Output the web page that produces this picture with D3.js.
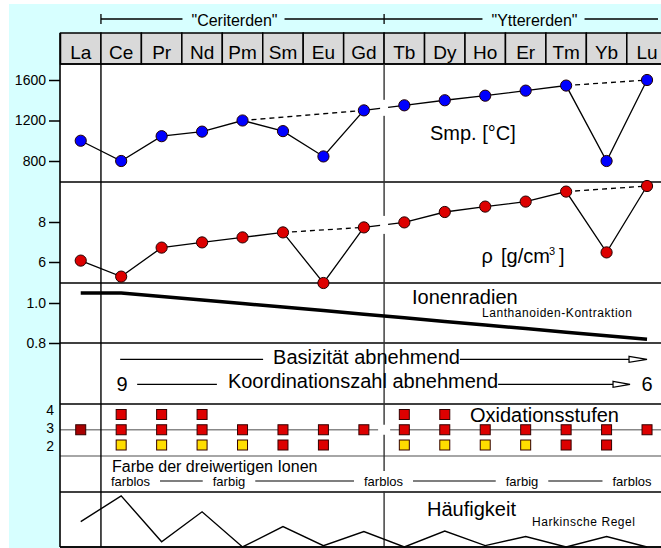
<!DOCTYPE html>
<html><head><meta charset="utf-8">
<script src="https://cdnjs.cloudflare.com/ajax/libs/d3/7.8.5/d3.min.js"></script>
<style>
html,body{margin:0;padding:0;background:#fff;}
svg{display:block;font-family:"Liberation Sans",Arial,Helvetica,sans-serif;}
</style></head><body>
<svg id="c" width="661" height="548"></svg>
<script>
// ---------------- data ----------------
const elements = ["La","Ce","Pr","Nd","Pm","Sm","Eu","Gd","Tb","Dy","Ho","Er","Tm","Yb","Lu"];
const groupNames = ["\"Ceriterden\"", "\"Yttererden\""];
const groupStart = ["Ce", "Tb"];

const meltingPoint = [1000, 800, 1045, 1090, 1200, 1095, 845, 1300, 1350, 1400, 1445, 1495, 1545, 800, 1600];
const meltingTicks = [800, 1200, 1600];
const meltingDashed = [["Pm","Gd"], ["Tm","Lu"]];

const density = [6.07, 5.27, 6.72, 6.98, 7.23, 7.48, 4.95, 7.73, 7.98, 8.5, 8.77, 9.02, 9.52, 6.48, 9.8];
const densityTicks = [6, 8];
const densityDashed = [["Sm","Gd"], ["Tm","Lu"]];

const ionicRadius = [1.05, 1.05, 1.032, 1.015, 0.997, 0.98, 0.962, 0.944, 0.926, 0.908, 0.89, 0.872, 0.854, 0.836, 0.819];
const radiusTicks = [0.8, 1.0];

const oxTicks = [2, 3, 4];
// d = dark red, r = red, y = yellow, "" = none
const ox4 = ["", "r","r","r","", "", "", "", "r","r","", "", "", "", ""];
const ox3 = ["d","r","r","r","r","r","r","r","r","r","r","r","r","r","r"];
const ox2 = ["", "y","y","y","y","r","r","", "y","y","y","y","r","r",""];

const colourLabels = ["farblos","farbig","farblos","farbig","farblos"];
const abundance = [4.6, 9.3, 0.96, 6.4, 0, 3.7, 0.25, 2.8, 0, 2.9, 0.25, 1.9, 0, 1.9, 0];

// ---------------- layout ----------------
const W = 661, H = 548;
const svg = d3.select("#c");
const x0 = 60.5, step = 40.45;
const x = d3.scaleBand().domain(elements).range([x0, x0 + step * elements.length]).padding(0);
const xc = e => x(e) + x.bandwidth() / 2;
const L = 60;
const yTop = 64, yBot = 547;
const panelLines = [64, 182, 283, 343, 404, 492, 547];

const yM = d3.scaleLinear().domain([800, 1600]).range([161, 80]);
const yD = d3.scaleLinear().domain([6, 8]).range([262, 222]);
const yR = d3.scaleLinear().domain([0.8, 1.0]).range([343, 303]);
const yO = d3.scaleLinear().domain([2, 4]).range([445, 414.5]);
const yOLabel = d3.scaleLinear().domain([2, 4]).range([446, 409.5]);
const yA = d3.scaleLinear().domain([0, 10]).range([547, 492]);

const colours = {d: "#a80000", r: "#dd0000", y: "#ffdd00"};

// backgrounds
svg.append("rect").attr("width", W).attr("height", H).attr("fill", "#fff");
svg.append("rect").attr("x", 9).attr("y", 4).attr("width", W - 9).attr("height", H - 4).attr("fill", "#d7ffff");
svg.append("rect").attr("x", L).attr("y", yTop).attr("width", W - L).attr("height", yBot - yTop).attr("fill", "#fff");

// top brackets
const bracketY = 19;
const bx = [x("Ce"), x("Tb"), 658];
const textCenters = [234.5, 534.5];
groupNames.forEach((g, i) => {
  const t = svg.append("text").attr("x", textCenters[i]).attr("y", 25.5)
    .attr("text-anchor", "middle").attr("font-size", 16).text(g);
  const w = t.node().getComputedTextLength();
  const a = bx[i], b = bx[i + 1];
  svg.append("line").attr("x1", a).attr("x2", textCenters[i] - w / 2 - 9).attr("y1", bracketY).attr("y2", bracketY).attr("stroke", "#000").attr("stroke-width", 1.3);
  svg.append("line").attr("x1", textCenters[i] + w / 2 + 7).attr("x2", b).attr("y1", bracketY).attr("y2", bracketY).attr("stroke", "#000").attr("stroke-width", 1.3);
  svg.append("line").attr("x1", a).attr("x2", a).attr("y1", bracketY - 5).attr("y2", bracketY + 5).attr("stroke", "#000").attr("stroke-width", 1.3);
});

// header cells
const hdr = svg.append("g");
elements.forEach(e => {
  hdr.append("rect").attr("x", x(e)).attr("y", 33).attr("width", x.bandwidth()).attr("height", 31)
    .attr("fill", "#d9d9d9").attr("stroke", "#000").attr("stroke-width", 1.5);
  hdr.append("text").attr("x", xc(e)).attr("y", 59).attr("text-anchor", "middle").attr("font-size", 19).text(e);
});

// panel horizontal lines
panelLines.forEach(y => {
  svg.append("line").attr("x1", L).attr("x2", W).attr("y1", y).attr("y2", y).attr("stroke", "#000").attr("stroke-width", 1.6);
});
// gray lines in oxidation panel
[yO(3), 456].forEach(y => {
  svg.append("line").attr("x1", L).attr("x2", W).attr("y1", y).attr("y2", y).attr("stroke", "#888").attr("stroke-width", 1.3);
});
// vertical lines
svg.append("line").attr("x1", L).attr("x2", L).attr("y1", 33).attr("y2", yBot).attr("stroke", "#000").attr("stroke-width", 1.6);
svg.append("line").attr("x1", x("Ce")).attr("x2", x("Ce")).attr("y1", yTop).attr("y2", yBot).attr("stroke", "#000").attr("stroke-width", 1.4);
svg.append("line").attr("x1", x("Tb")).attr("x2", x("Tb")).attr("y1", yTop).attr("y2", yBot).attr("stroke", "#333").attr("stroke-width", 1.4);

// axes
function axis(scale, ticks, fmt) {
  const g = svg.append("g").attr("transform", `translate(${L},0)`)
    .call(d3.axisLeft(scale).tickValues(ticks).tickSize(11).tickPadding(3).tickFormat(fmt));
  g.select(".domain").remove();
  g.selectAll(".tick line").attr("stroke", "#000").attr("stroke-width", 1.5);
  g.selectAll(".tick text").attr("font-size", 14).attr("fill", "#000")
    .attr("font-family", "'Liberation Sans',Arial,sans-serif");
}
axis(yM, meltingTicks, d3.format("d"));
axis(yD, densityTicks, d3.format("d"));
axis(yR, radiusTicks, d3.format(".1f"));

// generic series drawer
function series(values, yScale, dashed, fill, maskH) {
  const line = d3.line().x((d, i) => xc(elements[i])).y(d => yScale(d));
  svg.append("path").attr("d", line(values)).attr("fill", "none").attr("stroke", "#000").attr("stroke-width", 1.3);
  dashed.forEach(([a, b]) => {
    const ia = elements.indexOf(a), ib = elements.indexOf(b);
    svg.append("line").attr("x1", xc(a)).attr("y1", yScale(values[ia]))
      .attr("x2", xc(b)).attr("y2", yScale(values[ib]))
      .attr("stroke", "#000").attr("stroke-width", 1.3).attr("stroke-dasharray", "5,4");
  });
  // break at Gd/Tb divider
  const ig = elements.indexOf("Gd"), it = elements.indexOf("Tb");
  const xb = x("Tb");
  const t = (xb - xc("Gd")) / (xc("Tb") - xc("Gd"));
  const yb = yScale(values[ig]) + t * (yScale(values[it]) - yScale(values[ig]));
  svg.append("rect").attr("x", xb - 4).attr("y", yb - maskH / 2).attr("width", 8).attr("height", maskH).attr("fill", "#fff");
  svg.append("g").selectAll("circle").data(values).join("circle")
    .attr("cx", (d, i) => xc(elements[i])).attr("cy", d => yScale(d)).attr("r", 5.6)
    .attr("fill", fill).attr("stroke", "#200").attr("stroke-width", 1);
}
series(meltingPoint, yM, meltingDashed, "#0000ff", 16);
series(density, yD, densityDashed, "#dd0000", 18);

svg.append("text").attr("x", 430).attr("y", 140).attr("font-size", 20).text("Smp. [°C]");
svg.append("text").attr("x", 481.5).attr("y", 263).attr("font-size", 20).text("ρ");
svg.append("text").attr("x", 501).attr("y", 263).attr("font-size", 20).text("[g/cm");
svg.append("text").attr("x", 549).attr("y", 255).attr("font-size", 11).text("3");
svg.append("text").attr("x", 559).attr("y", 263).attr("font-size", 20).text("]");

// ionic radius
svg.append("path").attr("d", d3.line().x((d, i) => xc(elements[i])).y(d => yR(d))(ionicRadius))
  .attr("fill", "none").attr("stroke", "#000").attr("stroke-width", 3.5);
svg.append("text").attr("x", 412).attr("y", 304).attr("font-size", 20).text("Ionenradien");
svg.append("text").attr("x", 482).attr("y", 317).attr("font-size", 12)
  .attr("textLength", 150).attr("lengthAdjust", "spacing").text("Lanthanoiden-Kontraktion");

// arrows
function arrowRow(label, cx, baseY, lineY, startX, tipX, headLen) {
  const t = svg.append("text").attr("x", cx).attr("y", baseY).attr("text-anchor", "middle").attr("font-size", 20).text(label);
  const w = t.node().getComputedTextLength();
  return {left: cx - w / 2, right: cx + w / 2};
}
function hline(a, b, y) {
  svg.append("line").attr("x1", a).attr("x2", b).attr("y1", y).attr("y2", y).attr("stroke", "#000").attr("stroke-width", 1.2);
}
function head(tip, y, len) {
  svg.append("polygon").attr("points", `${tip - len},${y - 3} ${tip},${y} ${tip - len},${y + 3}`)
    .attr("fill", "#fff").attr("stroke", "#000").attr("stroke-width", 1.2);
}
{
  const y = 359.3;
  const r = arrowRow("Basizität abnehmend", 366.5, 363.5);
  hline(xc("Ce") - 1, r.left - 10, y);
  hline(r.right, xc("Lu") - 18, y);
  head(xc("Lu"), y, 18);
}
{
  const y = 384.3;
  const r = arrowRow("Koordinationszahl abnehmend", 363, 387.5);
  svg.append("text").attr("x", xc("Ce") + 1).attr("y", 390.5).attr("text-anchor", "middle").attr("font-size", 20).text("9");
  svg.append("text").attr("x", xc("Lu")).attr("y", 390.5).attr("text-anchor", "middle").attr("font-size", 20).text("6");
  hline(xc("Ce") + 16, r.left - 11, y);
  hline(r.right, xc("Lu") - 34, y);
  head(xc("Lu") - 17, y, 17);
}

// oxidation states
const oxMask = x("Tb");
svg.append("rect").attr("x", oxMask - 6).attr("y", yO(3) - 5).attr("width", 12).attr("height", 10).attr("fill", "#fff");
[[4, ox4], [3, ox3], [2, ox2]].forEach(([lvl, arr]) => {
  arr.forEach((k, i) => {
    if (!k) return;
    svg.append("rect").attr("x", xc(elements[i]) - 5).attr("y", yO(lvl) - 5).attr("width", 10).attr("height", 10)
      .attr("fill", colours[k]).attr("stroke", "#300").attr("stroke-width", 1);
  });
});
oxTicks.forEach(v => {
  svg.append("text").attr("x", 54).attr("y", yOLabel(v) + 5).attr("text-anchor", "end").attr("font-size", 14).text(v);
});
svg.append("text").attr("x", 470).attr("y", 421.5).attr("font-size", 20).text("Oxidationsstufen");

// colours of trivalent ions
svg.append("text").attr("x", 112).attr("y", 471.5).attr("font-size", 16).text("Farbe der dreiwertigen Ionen");
const labelCenters = [130.5, 229, 383.5, 522, 632];
const boxes = colourLabels.map((s, i) => {
  const t = svg.append("text").attr("x", labelCenters[i]).attr("y", 486).attr("text-anchor", "middle").attr("font-size", 13).text(s);
  const w = t.node().getComputedTextLength();
  return {l: labelCenters[i] - w / 2, r: labelCenters[i] + w / 2, t};
});
// white patch behind middle label (hides divider)
svg.insert("rect", () => boxes[2].t.node()).attr("x", boxes[2].l - 4).attr("y", 471).attr("width", boxes[2].r - boxes[2].l + 8).attr("height", 20).attr("fill", "#fff");
for (let i = 0; i < boxes.length - 1; i++) hline(boxes[i].r + 10, boxes[i + 1].l - 10, 481);

// abundance
svg.append("path").attr("d", d3.line().x((d, i) => xc(elements[i])).y(d => yA(d))(abundance))
  .attr("fill", "none").attr("stroke", "#000").attr("stroke-width", 1.4);
svg.append("line").attr("x1", L).attr("x2", W).attr("y1", yBot).attr("y2", yBot).attr("stroke", "#000").attr("stroke-width", 1.6);
svg.append("text").attr("x", 427).attr("y", 515.5).attr("font-size", 20).text("Häufigkeit");
svg.append("text").attr("x", 532).attr("y", 525.5).attr("font-size", 12)
  .attr("textLength", 103).attr("lengthAdjust", "spacing").text("Harkinsche Regel");
</script>
</body></html>
